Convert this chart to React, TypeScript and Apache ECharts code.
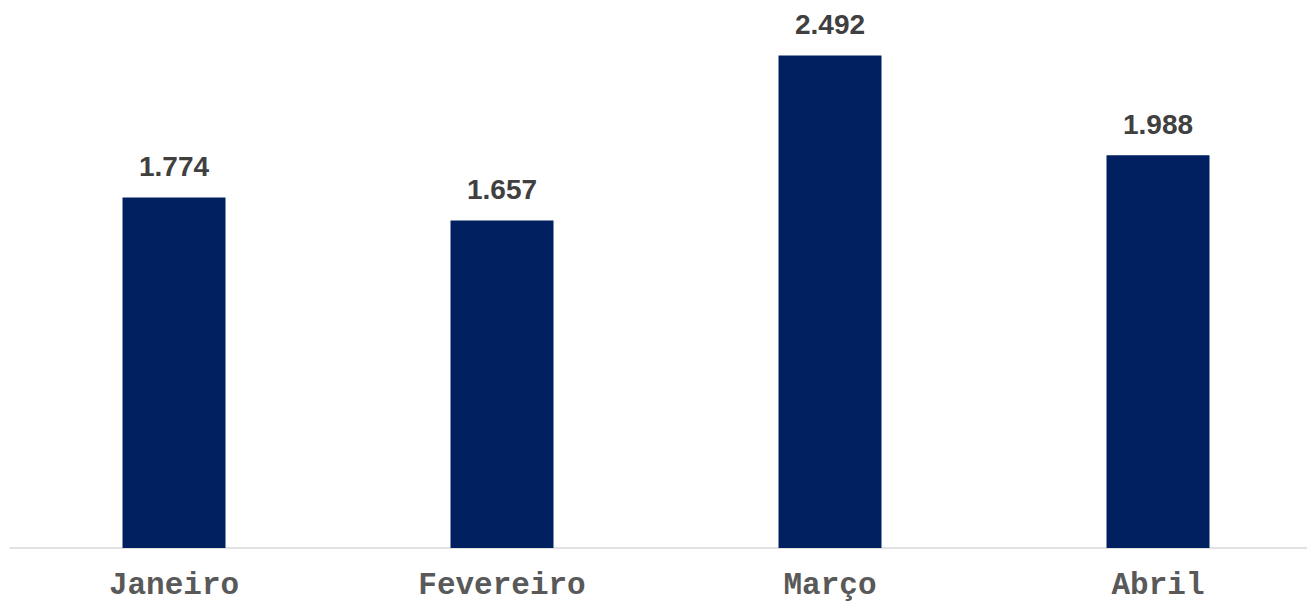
import React, { useEffect, useRef } from "react";
import * as echarts from "echarts";

const categories = ["Janeiro", "Fevereiro", "Março", "Abril"];
const values = [1.774, 1.657, 2.492, 1.988];

export default function App() {
  const ref = useRef<HTMLDivElement>(null);
  useEffect(() => {
    if (!ref.current) return;
    const chart = echarts.init(ref.current, undefined, { renderer: "svg" });
    chart.setOption({
      animation: false,
      backgroundColor: "#ffffff",
      grid: { left: 10, top: 54, right: 0, bottom: 49, containLabel: false },
      xAxis: {
        type: "category",
        data: categories,
        axisLine: { show: true, lineStyle: { color: "#d9d9d9", width: 1.5 } },
        axisTick: { show: false },
        axisLabel: {
          color: "#595959",
          fontFamily: "'Liberation Mono', 'Courier New', monospace",
          fontWeight: "bold",
          fontSize: 31,
          margin: 22,
        },
      },
      yAxis: {
        type: "value",
        min: 0,
        max: 2.5,
        show: false,
        splitLine: { show: false },
      },
      series: [
        {
          type: "bar",
          data: values,
          barWidth: 103,
          itemStyle: { color: "#002060" },
          label: {
            show: true,
            position: "top",
            distance: 17,
            color: "#404040",
            fontFamily: "'Liberation Sans', Arial, sans-serif",
            fontWeight: "bold",
            fontSize: 28,
            formatter: (p: any) => p.value.toFixed(3),
          },
        },
      ],
    });
    return () => chart.dispose();
  }, []);
  return (
    <div
      style={{
        position: "absolute",
        left: 0,
        top: 0,
        width: 1307,
        height: 601,
        overflow: "hidden",
      }}
    >
      <div ref={ref} style={{ width: 1322, height: 601 }} />
    </div>
  );
}
